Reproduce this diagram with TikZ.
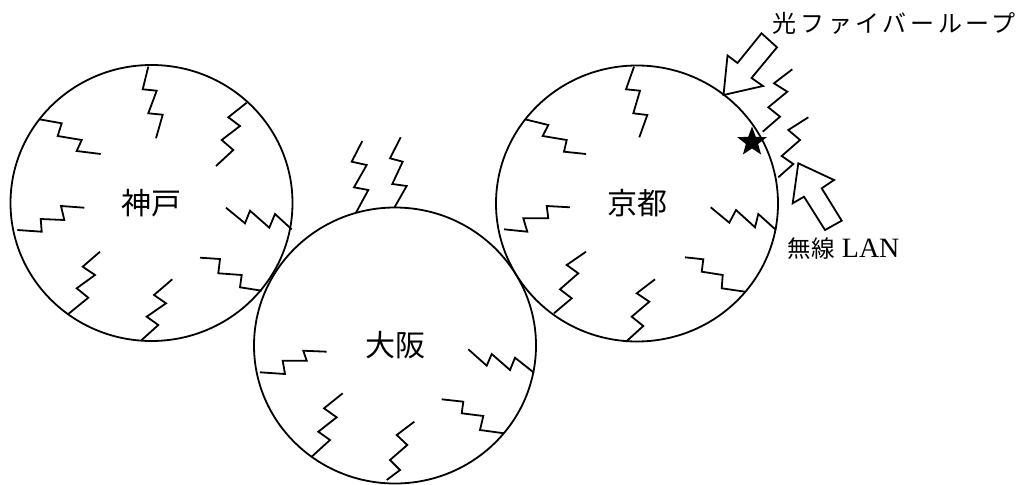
\documentclass[tikz,border=0pt]{standalone}
\usepackage{fontspec}
\setmainfont{Liberation Serif}
\newfontfamily\cjk{Noto Sans CJK JP}
\usetikzlibrary{shapes.geometric}
\begin{document}
\begin{tikzpicture}[x=1pt,y=-1pt,
  line width=1.8pt, line join=miter,
  city/.style={ellipse, draw, minimum width=282pt, minimum height=276pt, inner sep=0pt,
    font=\cjk\fontsize{30}{30}\selectfont},
  zz/.style={draw, line width=1.8pt},
  hollowarrow/.style={draw, line width=1.8pt, line join=miter}]
\useasboundingbox (0,0) rectangle (1016,484);
% cities
\node[city] (kobe) at (151.5,203) {神戸};
\node[city] (osaka) at (395,345.5) {大阪};
\node[city] (kyoto) at (637,203.5) {京都};
% Kobe zigzags
\draw[zz] (148.3,66.7)--(142.7,89.3)--(156.7,90.7)--(148.3,113.3)--(162.7,114.7)--(156,138.3);
\draw[zz] (39.3,119.3)--(61.7,123.3)--(57.7,136)--(81.7,140)--(76.7,151)--(100.7,154);
\draw[zz] (246.7,102.7)--(228.3,117.3)--(240,126)--(221.7,140)--(233.3,150)--(216,166);
\draw[zz] (17.3,230)--(41.7,231.7)--(40.7,219)--(64.3,220)--(61,206)--(84.3,207.7);
\draw[zz] (291.7,229.3)--(275,214)--(269.3,227.7)--(250,210.7)--(245,223.3)--(226,207.7);
\draw[zz] (68.3,314)--(88.3,297.7)--(76.7,288.3)--(95,275)--(82.7,266.7)--(100,251.7);
\draw[zz] (141.7,340)--(158.3,325)--(146.7,316.7)--(166,303.3)--(154,295)--(172.3,279.3);
\draw[zz] (261.7,290.7)--(240,287.3)--(241.7,275)--(218.3,273.3)--(220,259)--(200,257.7);
% Osaka zigzags
\draw[zz] (356,212.7)--(368.3,190)--(354,187.3)--(366.7,165)--(351.7,161.7)--(362.3,141);
\draw[zz] (394.3,207.7)--(406.7,186)--(392.3,184)--(402.7,161.7)--(390,158.3)--(400.7,137.3);
\draw[zz] (260,372.3)--(285,374)--(282.7,360.7)--(306.7,360.7)--(303.3,350.7)--(326.7,351.7);
\draw[zz] (534,372.7)--(515,357.7)--(510,370)--(491.7,354)--(486.7,365.7)--(468.3,349.3);
\draw[zz] (311.7,456.7)--(330,440)--(318.3,431.7)--(336.7,417.3)--(324,408.3)--(342.7,393.3);
\draw[zz] (386.7,480)--(400,470)--(390,460)--(407.3,445)--(396.7,435)--(414.3,421.7);
\draw[zz] (504,433.3)--(480,430)--(483.3,416)--(461.7,413.3)--(463.3,401.7)--(441.7,399.3);
% Kyoto zigzags
\draw[zz] (634,66.7)--(626,89.3)--(640,90.7)--(633.3,113.3)--(647.3,115)--(639.3,137.3);
\draw[zz] (525,119.3)--(548.3,125)--(542.7,136)--(566.7,140)--(564,151.7)--(586,154);
\draw[zz] (504,229.3)--(527.3,231.7)--(523.3,218.3)--(548.3,218.3)--(546.7,206)--(570,207.3);
\draw[zz] (776,230)--(758.3,214)--(755,227.3)--(736,210)--(729.3,222.7)--(710.7,207.3);
\draw[zz] (554,313.3)--(571.7,298.3)--(560,289.3)--(578.3,273.3)--(566.7,265)--(586,251.7);
\draw[zz] (626,341.7)--(643.3,326)--(631.7,316.7)--(649.3,301.7)--(636.7,293.3)--(655,279.3);
\draw[zz] (745,291.7)--(721.7,288.3)--(722.7,275)--(701.7,271.7)--(703.3,259.3)--(685,257.3);
% outside zigzags near Kyoto
\draw[zz] (762.7,131.7)--(780,116.7)--(768.3,107.3)--(787.3,91.7)--(774,83.3)--(792.3,69.3);
\draw[zz] (778.3,177.3)--(793.3,164)--(781.7,156)--(800,140)--(788.3,130)--(808.3,117.3);
% star
\node[star, star points=5, star point ratio=2.4, fill=black, draw=none,
  minimum size=31pt, inner sep=0pt] (star) at (752,142) {};
% hollow arrows
\draw[hollowarrow] (723.5,95)--(727.5,55.5)--(737.5,63)--(761.5,33.3)--(777,47.3)--(751.5,78)--(763,86)--cycle;
\draw[hollowarrow] (798.3,163.3)--(792.7,203.3)--(804,196.7)--(825,230)--(841.7,220.7)--(821.7,188.3)--(834,180)--cycle;
% labels
\node[anchor=west, inner sep=0pt, font=\cjk\fontsize{24}{24}\selectfont\addfontfeature{LetterSpace=15}] (fiber) at (772,23.5) {光ファイバーループ};
\node[anchor=base west, inner sep=0pt] (lan) at (787,257.5)
  {{\cjk\fontsize{23.5}{24}\selectfont 無線}\hspace{7pt}{\fontsize{28}{28}\selectfont LAN}};
\end{tikzpicture}
\end{document}
